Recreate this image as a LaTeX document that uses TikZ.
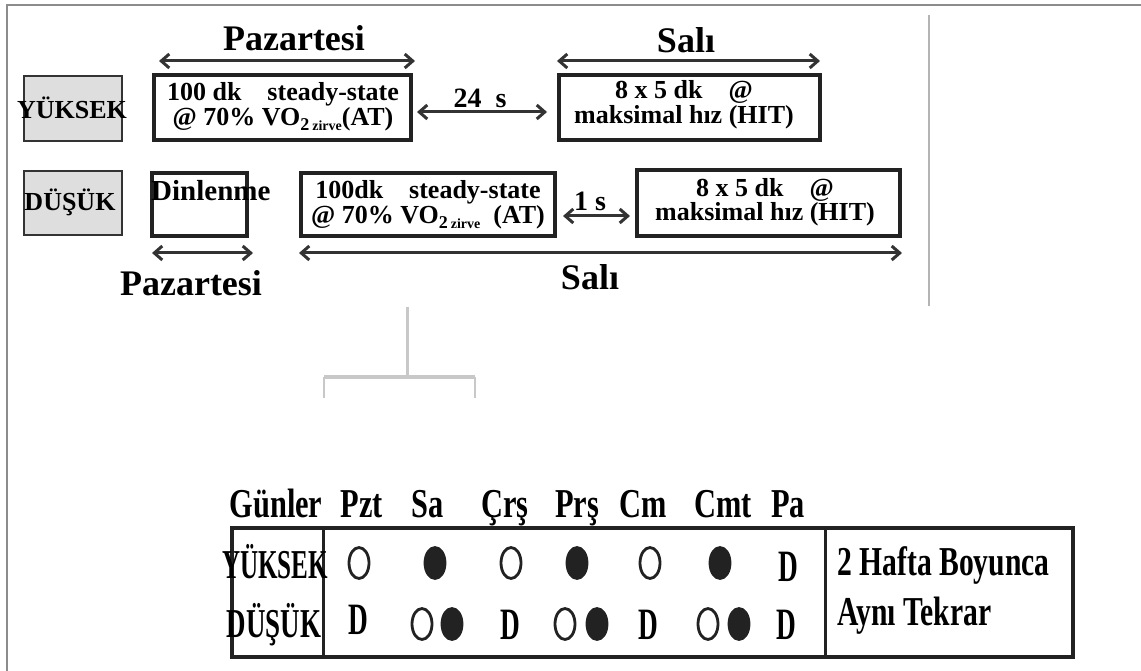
\documentclass[tikz,border=0pt]{standalone}
\usepackage{fontspec}
\setmainfont{Liberation Serif}
\usetikzlibrary{arrows.meta,shapes.geometric}
\definecolor{arrowgray}{HTML}{333333}
\definecolor{framegray}{HTML}{8C8C8C}
\definecolor{lightfill}{HTML}{DEDEDE}
\definecolor{brgray}{HTML}{C8C8C8}
\definecolor{ink}{HTML}{222222}
\newcommand\sx[2]{\scalebox{#1}[1.08]{#2}}
\newcommand\dd{\scalebox{0.72}[1.18]{D}}
\newcommand\vosub{VO\raisebox{-5pt}{\fontsize{18}{18}\selectfont 2\,\fontsize{14}{14}\selectfont zirve}}
\begin{document}
\begin{tikzpicture}[x=1pt,y=-1pt,
  darr/.style={{Straight Barb[length=8pt,width=14pt]}-{Straight Barb[length=8pt,width=14pt]}, line width=3pt, draw=arrowgray},
  graybox/.style={draw=arrowgray, line width=1.8pt, fill=lightfill, inner sep=0pt},
  tbox/.style={draw=ink, line width=4pt, inner sep=0pt},
  lbl/.style={font=\fontsize{36}{36}\selectfont\bfseries, inner sep=0pt},
  btxt/.style={font=\fontsize{26}{25}\selectfont\bfseries, align=center, inner sep=0pt},
  glbl/.style={font=\fontsize{26}{26}\selectfont\bfseries, inner sep=0pt},
  ttxt/.style={font=\fontsize{38}{38}\selectfont\bfseries, inner sep=0pt, anchor=base},
  oc/.style={draw=ink, line width=2.8pt, ellipse, minimum width=20pt, minimum height=31pt, inner sep=0pt},
  fc/.style={oc, fill=ink}
]
\useasboundingbox (0,0) rectangle (1141,671);
% outer frame lines
\coordinate (frtl) at (7,5);
\coordinate (frtr) at (1141,5);
\coordinate (frbl) at (7,671);
\draw[framegray, line width=2pt] (frbl) -- (frtl) -- (frtr);
\coordinate (vrt) at (929,15);
\coordinate (vrb) at (929,306);
\draw[brgray!90!black, line width=2.5pt] (vrt) -- (vrb);

% top row
\node[graybox, minimum width=98pt, minimum height=65pt] (ybox) at (73,108.5) {};
\node[glbl] (ylab) at (72,108) {YÜKSEK};
\node[tbox, minimum width=257pt, minimum height=65pt] (at1) at (282.5,107.5) {};
\node[btxt] (at1t) at (283,107) {100 dk\quad steady-state\\@ 70\% \vosub(AT)};
\node[tbox, minimum width=261pt, minimum height=65pt] (hit1) at (689.5,107.5) {};
\node[btxt] (hit1t) at (684,105) {8 x 5 dk\quad @\\maksimal hız (HIT)};
\node[lbl] (paz1) at (294,38) {Pazartesi};
\node[lbl] (sal1) at (686,40) {Salı};
\coordinate (pa1) at (159,61); \coordinate (pa2) at (415,61);
\draw[darr] (pa1) -- (pa2);
\coordinate (sa1) at (557,61); \coordinate (sa2) at (820,61);
\draw[darr] (sa1) -- (sa2);
\draw[darr] ([xshift=4pt,yshift=-4.5pt]at1.east) -- ([xshift=-10pt,yshift=-4.5pt]hit1.west);
\node[font=\fontsize{28}{28}\selectfont\bfseries, inner sep=0pt] (l24) at (480,98) {24\ \ s};

% second row
\node[graybox, minimum width=98pt, minimum height=64pt] (dbox) at (73,203) {};
\node[glbl] (dlab) at (70,202) {DÜŞÜK};
\node[tbox, minimum width=95pt, minimum height=63pt] (din) at (199.5,204.5) {};
\node[font=\fontsize{29}{29}\selectfont\bfseries, inner sep=0pt, anchor=west] (dint) at (151,191) {Dinlenme};
\node[tbox, minimum width=254pt, minimum height=63pt] (at2) at (428,204.5) {};
\node[btxt] (at2t) at (428,205) {100dk\quad steady-state\\@ 70\% \vosub\ \ (AT)};
\node[tbox, minimum width=263pt, minimum height=66pt] (hit2) at (768.5,203) {};
\node[btxt, font=\fontsize{26}{24}\selectfont\bfseries] (hit2t) at (765,202) {8 x 5 dk\quad @\\maksimal hız (HIT)};
\draw[darr] ([xshift=6pt,yshift=-11.5pt]at2.east) -- ([xshift=-5pt,yshift=-13pt]hit2.west);
\node[font=\fontsize{28}{28}\selectfont\bfseries, inner sep=0pt] (l1) at (590,201) {1\ s};
\coordinate (dn1) at (152,253); \coordinate (dn2) at (253,253);
\draw[darr] (dn1) -- (dn2);
\coordinate (lg1) at (299,253); \coordinate (lg2) at (902,253);
\draw[darr] (lg1) -- (lg2);
\node[lbl] (paz2) at (191,283) {Pazartesi};
\node[lbl] (sal2) at (590,277) {Salı};

% gray bracket connector
\coordinate (bt) at (407,307); \coordinate (bm) at (407,377);
\coordinate (bl) at (324,377); \coordinate (br) at (475,377);
\coordinate (bld) at (324,398); \coordinate (brd) at (475,398);
\draw[brgray, line width=3pt] (bt) -- (bm);
\draw[brgray, line width=4.5pt] (bl) -- (br);
\draw[brgray, line width=2.5pt] (bl) -- (bld) (br) -- (brd);

% table
\coordinate (ttl) at (232,528); \coordinate (tbr) at (1073,657);
\draw[ink, line width=4pt] (ttl) rectangle (tbr);
\coordinate (d1t) at (323,528); \coordinate (d1b) at (323,657);
\coordinate (d2t) at (825,528); \coordinate (d2b) at (825,657);
\draw[ink, line width=3pt] (d1t) -- (d1b) (d2t) -- (d2b);

\node[ttxt] (hg) at (276,517) {\sx{0.8}{Günler}};
\node[ttxt] (hpzt) at (362,517) {\sx{0.8}{Pzt}};
\node[ttxt] (hsa) at (428,517) {\sx{0.8}{Sa}};
\node[ttxt] (hcrs) at (505,517) {\sx{0.8}{Çrş}};
\node[ttxt] (hprs) at (577,517) {\sx{0.8}{Prş}};
\node[ttxt] (hcm) at (643,517) {\sx{0.8}{Cm}};
\node[ttxt] (hcmt) at (723,517) {\sx{0.8}{Cmt}};
\node[ttxt] (hpa) at (788,517) {\sx{0.8}{Pa}};

\node[ttxt] (ry) at (275,578) {\sx{0.66}{YÜKSEK}};
\node[ttxt] (rd) at (274,637) {\sx{0.71}{DÜŞÜK}};

% row 1
\node[oc] (y1) at (359,563) {};
\node[fc] (y2) at (435,563) {};
\node[oc] (y3) at (511,563) {};
\node[fc] (y4) at (577,563) {};
\node[oc] (y5) at (650,563) {};
\node[fc] (y6) at (720,563) {};
\node[ttxt] (y7) at (788,581) {\dd};
% row 2
\node[ttxt] (d1) at (358,634) {\dd};
\node[oc] (d2a) at (422,624) {};
\node[fc] (d2b) at (452,624) {};
\node[ttxt] (d3) at (510,639) {\dd};
\node[oc] (d4a) at (565,624) {};
\node[fc] (d4b) at (597,624) {};
\node[ttxt] (d5) at (648,639) {\dd};
\node[oc] (d6a) at (708,624) {};
\node[fc] (d6b) at (739,624) {};
\node[ttxt] (d7) at (786,639) {\dd};

\node[ttxt, anchor=base west] (rc1) at (837,575) {\sx{0.78}{2 Hafta Boyunca}};
\node[ttxt, anchor=base west] (rc2) at (837,625) {\sx{0.78}{Aynı Tekrar}};
\end{tikzpicture}
\end{document}
